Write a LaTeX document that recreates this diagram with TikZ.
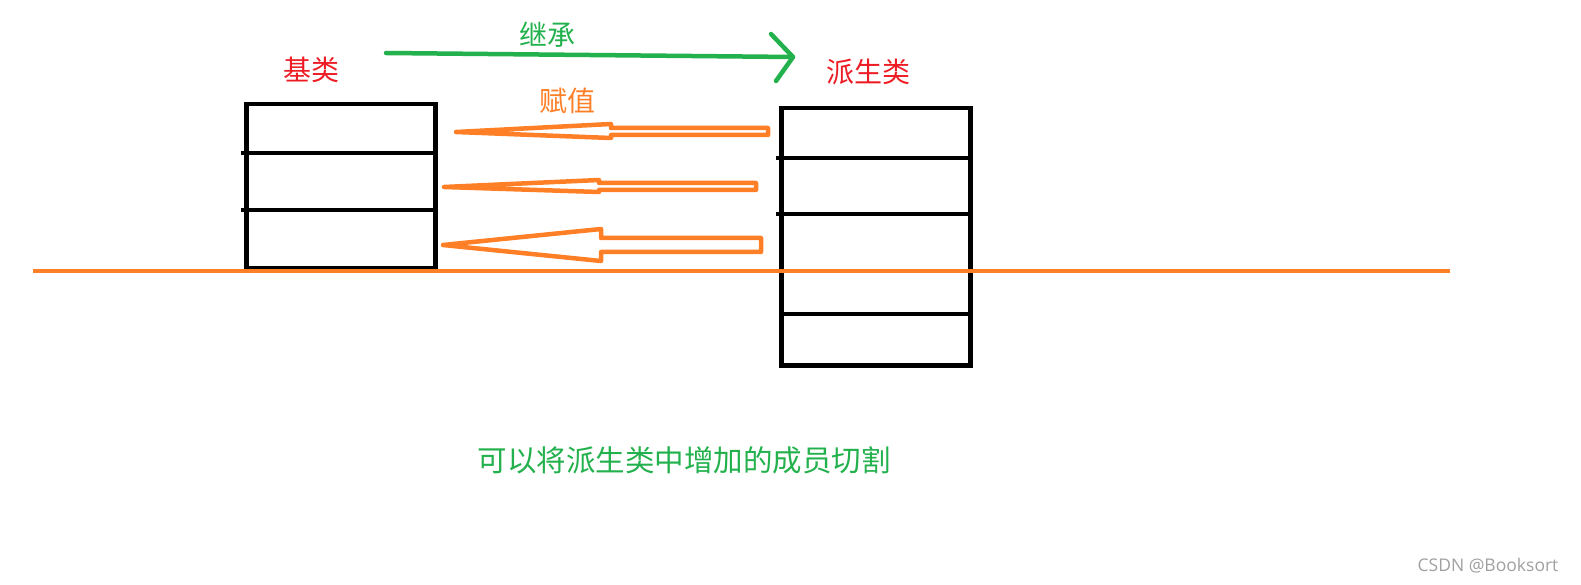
\documentclass[tikz,border=0pt]{standalone}
\usepackage{fontspec}
\newfontfamily\cjk{Noto Sans CJK SC}
\newfontfamily\wmfont{Open Sans}
\definecolor{pgreen}{HTML}{22B14C}
\definecolor{porange}{HTML}{FF7F27}
\definecolor{pred}{HTML}{ED1C24}
\definecolor{wmgray}{HTML}{A0A0A0}
\begin{document}
\begin{tikzpicture}[x=1pt,y=-1pt,
  blk/.style={line width=4.5pt, draw=black},
  orl/.style={line width=4.5pt, draw=porange, line join=round},
  lbl/.style={font=\cjk\fontsize{28}{30}\selectfont, inner sep=0pt}]
\useasboundingbox (0,0) rectangle (1581,585);
% base class box
\node[blk, rectangle, minimum width=189pt, minimum height=164pt, inner sep=0pt, anchor=north west] (base) at (244,102) {};
\draw[blk] (241,153) -- (433,153);
\draw[blk] (241,210) -- (435,210);
% derived class box
\node[blk, rectangle, minimum width=189pt, minimum height=257pt, inner sep=0pt, anchor=north west] (der) at (779,106) {};
\draw[blk] (776,158) -- (968,158);
\draw[blk] (776,214) -- (970,214);
\draw[line width=2pt] (876,270) -- (968,270);
\draw[blk] (779,314) -- (968,314);
% orange cut line
\coordinate (cutL) at (33,271);
\coordinate (cutR) at (1450,271);
\draw[line width=4.5pt, porange] (cutL) -- (cutR);
% green inheritance arrow
\coordinate (gs) at (386,53);
\coordinate (ge) at (793,57);
\draw[line width=4.5pt, pgreen, line cap=round] (gs) -- (ge);
\draw[line width=4.5pt, pgreen, line cap=round, line join=round] (771,34) -- (ge) -- (776,81);
% orange hollow arrows
\draw[orl] (456,132) -- (611,124) -- (611,128) -- (768,128) -- (768,135) -- (611,135) -- (611,138) -- cycle;
\draw[orl] (444,187) -- (599,180) -- (599,183) -- (756,183) -- (756,190) -- (599,190) -- (599,192) -- cycle;
\draw[orl] (443,245) -- (601,229) -- (601,238) -- (761,238) -- (761,252) -- (601,252) -- (601,261) -- cycle;
% labels
\node[lbl, text=pgreen] (inh) at (547,35) {继承};
\node[lbl, text=porange] (asg) at (567,101) {赋值};
\node[lbl, text=pred] (lbase) at (311,70) {基类};
\node[lbl, text=pred] (lder) at (868,72) {派生类};
\node[lbl, text=pgreen, font=\cjk\fontsize{29.5}{31}\selectfont] (note) at (684,460) {可以将派生类中增加的成员切割};
\node[inner sep=0pt, text=wmgray, font=\wmfont\fontsize{17.5}{19}\selectfont] (wm) at (1488,566) {CSDN @Booksort};
\end{tikzpicture}
\end{document}
